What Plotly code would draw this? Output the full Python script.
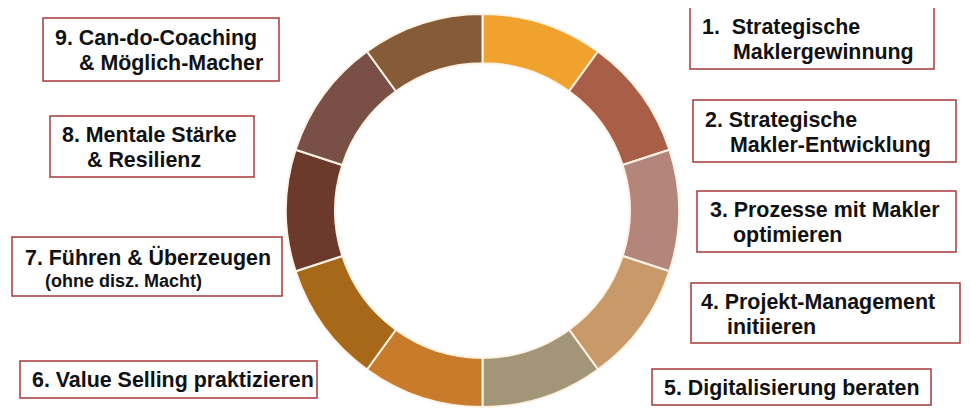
import plotly.graph_objects as go

W, H = 970, 412
OFF = 8  # browser default body margin

# Ring segments (clockwise from 12 o'clock), equal shares
segment_names = ["S1", "S2", "S3", "S4", "S5", "S6", "S7", "S8", "S9", "S10"]
segment_values = [1, 1, 1, 1, 1, 1, 1, 1, 1, 1]
segment_colors = ["#F0A22E", "#A95F47", "#B3857B", "#C89A6A", "#A39678",
                  "#C97B2C", "#A8681A", "#6B3A2C", "#7A4F45", "#855C37"]

# Label boxes: first line, second line (or None)
label_line1 = ["1.\u00a0\u00a0Strategische", "2. Strategische", "3. Prozesse mit Makler",
               "4. Projekt-Management", "5. Digitalisierung beraten",
               "6. Value Selling praktizieren", "7. Führen & Überzeugen",
               "8. Mentale Stärke", "9. Can-do-Coaching"]
label_line2 = ["Maklergewinnung", "Makler-Entwicklung", "optimieren", "initiieren", None,
               None, "(ohne disz. Macht)", "& Resilienz", "& Möglich-Macher"]

# layout geometry (screen pixels): box rect, line-1 pos, line-2 pos
boxes = [(690, 7, 934, 69), (693, 100, 956, 162), (697, 191, 956, 252),
         (691, 283, 960, 343), (652, 369, 931, 405), (20, 361, 317, 398),
         (12, 237, 282, 296), (50, 116, 254, 177), (43, 18, 279, 81)]
pos1 = [(700, 27), (703, 120), (708, 210), (699, 302), (662, 388),
        (30, 380), (23, 257), (60, 135), (53, 38)]
pos2 = [(731, 52), (728, 145), (731, 235), (725, 327), None,
        None, (43, 281), (85, 160), (77, 63)]

cx, cy, r_out = 482.5, 210.5, 196.5

fig = go.Figure()
fig.add_trace(go.Pie(
    labels=segment_names, values=segment_values, sort=False, direction="clockwise",
    rotation=0, hole=0.75, textinfo="none", hoverinfo="skip", showlegend=False,
    marker=dict(colors=segment_colors, line=dict(color="#FFF3E6", width=2)),
    domain=dict(x=[(cx - OFF - r_out) / W, (cx - OFF + r_out) / W],
                y=[(H - (cy - OFF) - r_out) / H, (H - (cy - OFF) + r_out) / H]),
))

font_main = dict(family="Liberation Sans, Arial, sans-serif", size=21.4, color="#111111")
font_small = dict(family="Liberation Sans, Arial, sans-serif", size=18, color="#111111")

for i in range(len(label_line1)):
    x0, y0, x1, y1 = boxes[i]
    fig.add_shape(type="rect", xref="x", yref="y", x0=x0, y0=y0, x1=x1, y1=y1,
                  line=dict(color="#A83838", width=1.5), fillcolor="rgba(0,0,0,0)")
    px, py = pos1[i]
    fig.add_annotation(x=px, y=py, xref="x", yref="y", text="<b>" + label_line1[i] + "</b>",
                       showarrow=False, xanchor="left", yanchor="middle", font=font_main)
    if label_line2[i] is not None:
        qx, qy = pos2[i]
        f = font_small if label_line2[i].startswith("(") else font_main
        fig.add_annotation(x=qx, y=qy, xref="x", yref="y", text="<b>" + label_line2[i] + "</b>",
                           showarrow=False, xanchor="left", yanchor="middle", font=f)

fig.update_layout(
    width=W, height=H, margin=dict(l=0, r=0, t=0, b=0),
    paper_bgcolor="white", plot_bgcolor="white",
    xaxis=dict(range=[OFF, W + OFF], visible=False, fixedrange=True),
    yaxis=dict(range=[H + OFF, OFF], visible=False, fixedrange=True),
)
fig.write_html("out.html")
